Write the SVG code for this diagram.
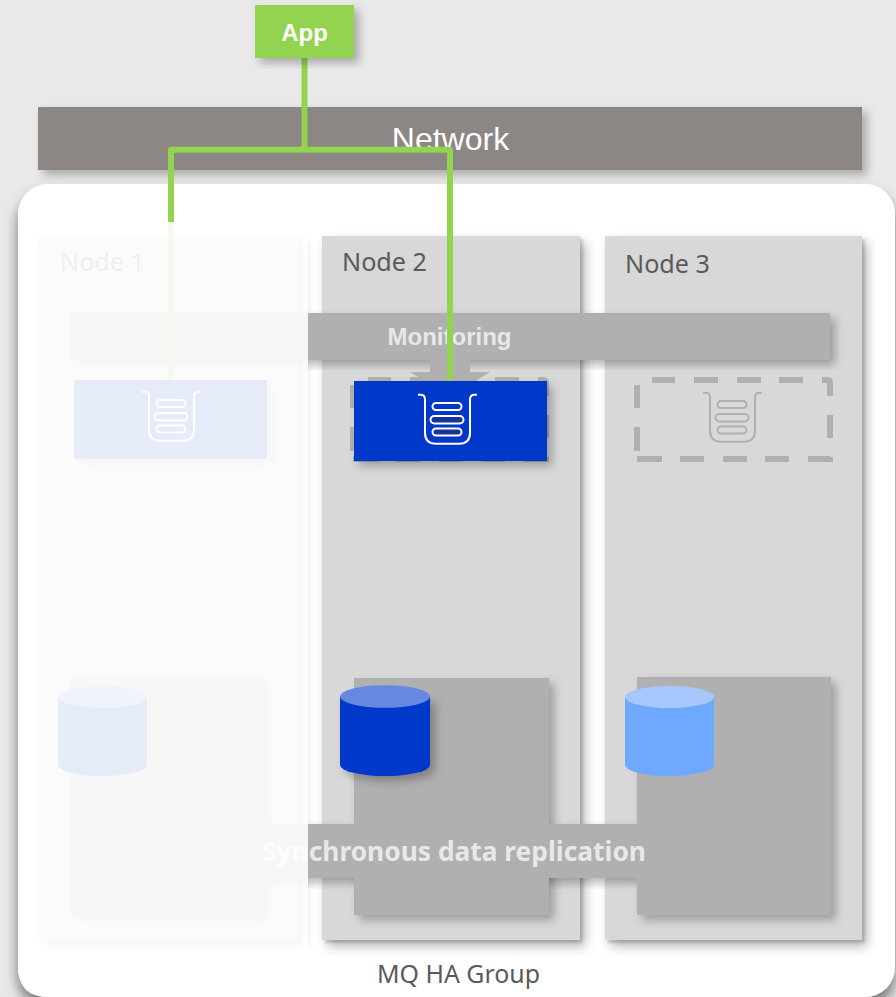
<svg xmlns="http://www.w3.org/2000/svg" width="896" height="997" viewBox="0 0 896 997">
<defs>
<filter id="sh" x="-15%" y="-15%" width="135%" height="135%"><feDropShadow dx="5" dy="5" stdDeviation="5" flood-color="#000" flood-opacity="0.28"/></filter>
<filter id="shn" x="-10%" y="-5%" width="125%" height="112%"><feGaussianBlur in="SourceAlpha" stdDeviation="6"/><feOffset dx="5" dy="6"/><feComponentTransfer result="far"><feFuncA type="linear" slope="0.3"/></feComponentTransfer><feGaussianBlur in="SourceAlpha" stdDeviation="1"/><feOffset dx="3" dy="3"/><feComponentTransfer result="near"><feFuncA type="linear" slope="0.14"/></feComponentTransfer><feMerge><feMergeNode in="far"/><feMergeNode in="near"/><feMergeNode in="SourceGraphic"/></feMerge></filter>
<filter id="shg" x="-5%" y="-5%" width="110%" height="110%"><feDropShadow dx="0" dy="10" stdDeviation="7" flood-color="#000" flood-opacity="0.5"/></filter>
<g id="icon" fill="none" stroke-width="2">
<path d="M418 394.700h3q4 0 4 5v33q0 11 11 11h23q11 0 11-11v-33q0-5 4-5h3"/>
<rect x="432.500" y="403" width="29" height="7" rx="3.500"/>
<rect x="430.500" y="416" width="33" height="7.500" rx="3.700"/>
<rect x="432.500" y="428.500" width="29" height="7" rx="3.500"/>
</g>
<path id="dash" fill="none" stroke="#b0b0b0" stroke-width="6" d="M652 380H675M694 380H718M737 380H761M779 380H803M822 380H827Q830 380 830 383V396M830 415V438M830 457V459H808M789 459H765M747 459H723M704 459H680M662 459H637M637 451V427M637 408V385"/>
</defs>
<style>
.f{font-family:"Liberation Sans",Arial,sans-serif}
.p{font-family:"Noto Sans","Open Sans",sans-serif}
.node{fill:#d8d8d8;filter:url(#shn)}
.store{fill:#b0b0b0;filter:url(#sh)}
.lab{font-size:25px;fill:#5a5a5a}
.bar{fill:#b0b0b0}
.barsh{fill:#b0b0b0;filter:url(#sh)}
.conn{fill:none;stroke:#92d34f;stroke-width:6;stroke-linejoin:round}
</style>
<rect width="896" height="997" fill="#e9e9e9"/>
<g id="network"><rect x="38" y="107" width="824" height="63" fill="#8c8785" filter="url(#sh)"/>
<text x="450.500" y="150" text-anchor="middle" font-size="32" fill="#fff" class="f">Network</text></g>
<g id="group"><rect x="18" y="184" width="877" height="813" rx="30" fill="#fff" filter="url(#shg)"/>
<text x="458.500" y="983" text-anchor="middle" class="p lab" textLength="163" lengthAdjust="spacingAndGlyphs">MQ HA Group</text></g>
<g id="node1"><rect x="38" y="236" width="260" height="704" class="node"/>
<text x="60" y="271" class="p lab" textLength="85" lengthAdjust="spacingAndGlyphs">Node 1</text></g>
<g id="node2"><rect x="322" y="236" width="258" height="704" class="node"/>
<text x="342" y="271" class="p lab" textLength="85" lengthAdjust="spacingAndGlyphs">Node 2</text></g>
<g id="node3"><rect x="605" y="236" width="257" height="704" class="node"/>
<text x="625" y="273" class="p lab" textLength="85" lengthAdjust="spacingAndGlyphs">Node 3</text></g>
<rect x="262" y="824" width="375" height="54" class="barsh"/>
<g id="storage1"><rect x="70" y="678" width="195" height="237" class="store"/></g>
<g id="storage2"><rect x="354" y="678" width="195" height="237" class="store"/></g>
<g id="storage3"><rect x="637" y="677" width="194" height="238" class="store"/></g>
<g id="monitoring"><rect x="70" y="313" width="760" height="47" class="barsh"/>
<path d="M430 360H470V372H490L470 384H430L410 372H430Z" fill="#b0b0b0"/>
<text x="449.500" y="345" text-anchor="middle" font-size="24" font-weight="700" fill="#e8e8e8" class="f">Monitoring</text></g>
<g id="replication"><rect x="262" y="824" width="400" height="54" class="bar"/>
<text x="262" y="861" class="p" font-size="27" font-weight="700" fill="#e8e8e8" textLength="384" lengthAdjust="spacingAndGlyphs">Synchronous data replication</text></g>
<g id="standby3"><use href="#dash"/><use href="#icon" x="285" y="-2" stroke="#b0b0b0"/></g>
<g id="standby2"><use href="#dash" x="-284"/></g>
<g id="queue1"><rect x="74" y="380" width="193" height="79" fill="#0039c9" filter="url(#sh)"/><use href="#icon" x="-276" y="-3" stroke="#fff"/></g>
<g id="queue2"><rect x="354" y="381" width="193" height="80" fill="#0039c9" filter="url(#sh)"/>
<rect x="431" y="416" width="32" height="7.500" rx="3.500" fill="#1a329b"/><rect x="433" y="428.500" width="28" height="7" rx="3.500" fill="#1a329b"/>
<use href="#icon" stroke="#fff"/></g>
<g id="db1"><path d="M58 697V765A44.500 11 0 0 0 147 765V697Z" fill="#0039c9"/><ellipse cx="102.500" cy="697" rx="44.500" ry="11" fill="#6688e0"/></g>
<g id="db2"><path d="M340 696.500V765A45 11 0 0 0 430 765V696.500Z" fill="#0039c9" filter="url(#sh)"/><ellipse cx="385" cy="696.500" rx="45" ry="11.300" fill="#6688e0"/></g>
<g id="db3"><path d="M625 697V765A44.500 11 0 0 0 714 765V697Z" fill="#6ea8ff"/><ellipse cx="669.500" cy="697" rx="44.500" ry="11" fill="#a6c8ff"/></g>
<g id="connectors"><path class="conn" d="M304.500 58V149.700M171 380V149.700H450V381"/></g>
<path id="fade" d="M18 222H308V997H48Q18 997 18 967Z" fill="#fff" fill-opacity="0.9"/>
<g id="app"><rect x="255" y="5" width="99" height="53" fill="#92d34f" filter="url(#sh)"/>
<text x="304.500" y="41" text-anchor="middle" font-size="24" font-weight="700" fill="#fff" class="f">App</text></g>
</svg>
